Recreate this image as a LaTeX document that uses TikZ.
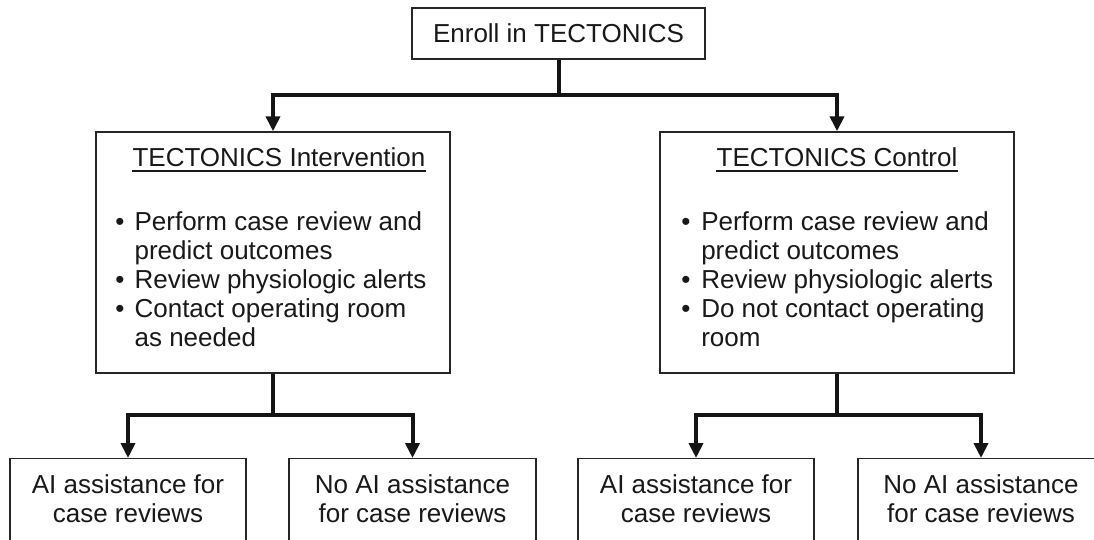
\documentclass[tikz,border=0pt]{standalone}
\usepackage{fontspec}
\setmainfont{Liberation Sans}
\usetikzlibrary{arrows.meta}
\begin{document}
\begin{tikzpicture}[x=0.75pt,y=-0.75pt,
  box/.style={draw=black!85, line width=1.1pt, inner sep=0pt, fill=white},
  txt/.style={inner sep=0pt, text=black!90, font=\fontsize{19.5}{21.75}\selectfont},
  ctext/.style={txt, align=center},
  uline/.style={line width=1.3pt, draw=black!90},
  stem/.style={line width=3pt, draw=black!92},
  arr/.style={stem, -{Triangle[width=10.5pt,length=11.25pt]}}
]
\useasboundingbox (0,0) rectangle (1094,539);
\clip (0,0) rectangle (1094,539);

% boxes
\node[box, txt, draw=black!85, minimum width=219.75pt, minimum height=38.25pt] (enroll) at (558.5,33.5) {Enroll in TECTONICS};
\node[box, minimum width=265.5pt, minimum height=180.75pt] (int) at (273,252.5) {};
\node[box, minimum width=265.5pt, minimum height=180.75pt] (ctl) at (837,252.5) {};
\node[box, anchor=north, minimum width=177pt, minimum height=67.5pt] (b1) at (128,458) {};
\node[box, anchor=north, minimum width=185.25pt, minimum height=67.5pt] (b2) at (412.5,458) {};
\node[box, anchor=north, minimum width=177pt, minimum height=67.5pt] (b3) at (696,458) {};
\node[box, anchor=north, minimum width=184.5pt, minimum height=67.5pt] (b4) at (981,458) {};

% box texts
\node[txt, anchor=base] (intT) at (279,166) {TECTONICS Intervention};
\draw[uline] ([yshift=-3.75pt]intT.base west) -- ([yshift=-3.75pt]intT.base east);
\node[txt, anchor=base west] (intL) at (115,230) {\begin{tabular}[t]{@{}p{14.5pt}@{}l@{}}\textbullet & Perform case review and\\ & predict outcomes\\ \textbullet & Review physiologic alerts\\ \textbullet & Contact operating room\\ & as needed\end{tabular}};

\node[txt, anchor=base] (ctlT) at (837,166) {TECTONICS Control};
\draw[uline] ([yshift=-3.75pt]ctlT.base west) -- ([yshift=-3.75pt]ctlT.base east);
\node[txt, anchor=base west] (ctlL) at (681,230) {\begin{tabular}[t]{@{}p{15pt}@{}l@{}}\textbullet & Perform case review and\\ & predict outcomes\\ \textbullet & Review physiologic alerts\\ \textbullet & Do not contact operating\\ & room\end{tabular}};

\node[ctext, anchor=base] (b1t) at (128,522) {AI assistance for\\case reviews};
\node[ctext, anchor=base] (b2t) at (412.5,522) {No AI assistance\\for case reviews};
\node[ctext, anchor=base] (b3t) at (696,522) {AI assistance for\\case reviews};
\node[ctext, anchor=base] (b4t) at (981,522) {No AI assistance\\for case reviews};

% connectors
\coordinate (j0) at (558.5,95);
\coordinate (j1) at (273,415);
\coordinate (j2) at (837,415);
\draw[arr] (enroll.south) -- (j0) -| (int.north);
\draw[arr] (enroll.south) -- (j0) -| (ctl.north);
\draw[arr] (int.south) -- (j1) -| (b1.north);
\draw[arr] (int.south) -- (j1) -| (b2.north);
\draw[arr] (ctl.south) -- (j2) -| (b3.north);
\draw[arr] (ctl.south) -- (j2) -| (b4.north);
\end{tikzpicture}
\end{document}
